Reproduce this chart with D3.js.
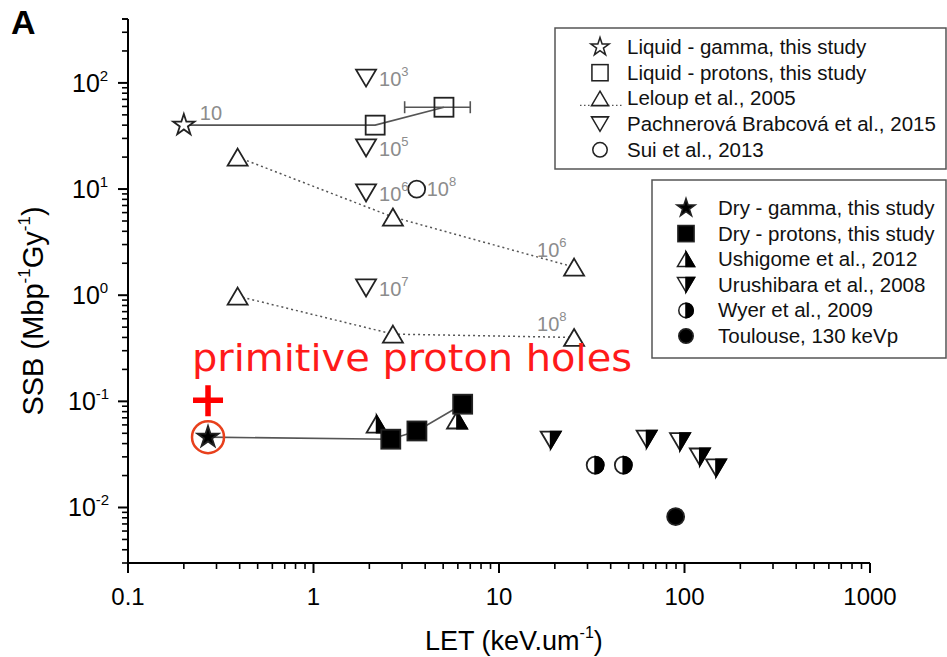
<!DOCTYPE html>
<html>
<head>
<meta charset="utf-8">
<script src="https://cdn.jsdelivr.net/npm/d3@7/dist/d3.min.js"></script>
<style>
body{margin:0;background:#fff;}
svg{display:block;font-family:"Liberation Sans",Arial,sans-serif;}
</style>
</head>
<body>
<svg id="chart" width="947" height="657"></svg>
<script>
// LET (keV/um) and SSB (Mbp^-1 Gy^-1)
var liquidGammaLET = [0.2];
var liquidGammaSSB = [40];
var liquidProtonLET = [2.15, 5.05];
var liquidProtonSSB = [40, 59];
var liquidProtonErrLow = [null, 3.1];
var liquidProtonErrHigh = [null, 7.0];
var leloupHighLET = [0.39, 2.68, 25.4];
var leloupHighSSB = [20, 5.45, 1.84];
var leloupLowLET = [0.39, 2.68, 25.4];
var leloupLowSSB = [0.98, 0.43, 0.40];
var pachnerovaLET = [1.92, 1.92, 1.92, 1.92];
var pachnerovaSSB = [111, 24.4, 9.2, 1.17];
var pachnerovaExp = ["3", "5", "6", "7"];
var suiLET = [3.6];
var suiSSB = [10];
var suiExp = ["8"];
var dryGammaLET = [0.27];
var dryGammaSSB = [0.046];
var dryProtonLET = [2.61, 3.61, 6.37];
var dryProtonSSB = [0.044, 0.0526, 0.094];
var ushigomeLET = [2.19, 5.94];
var ushigomeSSB = [0.061, 0.0667];
var urushibaraLET = [19.0, 62.5, 94.6, 121, 148];
var urushibaraSSB = [0.0432, 0.0441, 0.0417, 0.0299, 0.0236];
var wyerLET = [33, 46.8];
var wyerSSB = [0.0251, 0.0251];
var toulouseLET = [89.6];
var toulouseSSB = [0.0082];

var xTicks = [0.1, 1, 10, 100, 1000];
var xTickLabels = ["0.1", "1", "10", "100", "1000"];
var yTicks = [0.01, 0.1, 1, 10, 100];
var yTickExp = ["-2", "-1", "0", "1", "2"];

var legendLiquid = [
    {type: "starOpen", label: "Liquid - gamma, this study"},
    {type: "squareOpen", label: "Liquid - protons, this study"},
    {type: "triUpOpen", label: "Leloup et al., 2005", dotted: true},
    {type: "triDownOpen", label: "Pachnerová Brabcová et al., 2015"},
    {type: "circleOpen", label: "Sui et al., 2013"}
];
var legendDry = [
    {type: "starFilled", label: "Dry - gamma, this study"},
    {type: "squareFilled", label: "Dry - protons, this study"},
    {type: "triUpHalf", label: "Ushigome et al., 2012"},
    {type: "triDownHalf", label: "Urushibara et al., 2008"},
    {type: "circleHalf", label: "Wyer et al., 2009"},
    {type: "circleFilled", label: "Toulouse, 130 keVp"}
];

var LINE = "#555";
var EDGE = "#222";
var NOTE = "#8c8c8c";

var svg = d3.select("#chart");
var xScale = d3.scaleLog().domain([0.1, 1000]).range([128, 870]);
var yScale = d3.scaleLog().domain([0.003, 400]).range([563, 19]);

function zip(xs, ys){
    return xs.map(function(v, i){ return [v, ys[i]]; });
}

drawAxes();
drawLines();
drawAllMarkers();
drawNotes();
drawLegend(legendLiquid, 555, 28, 391, 141, 600, 627, 47, 25.7);
drawLegend(legendDry, 652, 180, 294, 178, 686, 718, 208, 25.6);
drawAnnotation();

function drawAxes(){
    var minorX = xScale.ticks().filter(function(t){ return xTicks.indexOf(t) < 0; });
    var minorY = yScale.ticks().filter(function(t){ return yTicks.indexOf(+t.toPrecision(3)) < 0; });
    minorY.push(400);

    var gx = svg.append("g").attr("transform", "translate(0,563)");
    gx.append("line").attr("x1", 128).attr("x2", 870).attr("stroke", "#000").attr("stroke-width", 2);
    gx.selectAll(".mnx").data(minorX).enter().append("line")
        .attr("x1", xScale).attr("x2", xScale).attr("y1", 0).attr("y2", 6)
        .attr("stroke", "#000").attr("stroke-width", 1.6);
    gx.selectAll(".mjx").data(xTicks).enter().append("line")
        .attr("x1", xScale).attr("x2", xScale).attr("y1", 0).attr("y2", 10)
        .attr("stroke", "#000").attr("stroke-width", 2);
    gx.selectAll(".lbx").data(xTicks).enter().append("text")
        .attr("x", xScale).attr("y", 42)
        .attr("text-anchor", "middle").attr("font-size", 24)
        .text(function(d, i){ return xTickLabels[i]; });

    var gy = svg.append("g").attr("transform", "translate(128,0)");
    gy.append("line").attr("y1", 19).attr("y2", 563).attr("stroke", "#000").attr("stroke-width", 2);
    gy.selectAll(".mny").data(minorY).enter().append("line")
        .attr("y1", yScale).attr("y2", yScale).attr("x1", 0).attr("x2", -6)
        .attr("stroke", "#000").attr("stroke-width", 1.6);
    gy.selectAll(".mjy").data(yTicks).enter().append("line")
        .attr("y1", yScale).attr("y2", yScale).attr("x1", 0).attr("x2", -10)
        .attr("stroke", "#000").attr("stroke-width", 2);
    var lab = gy.selectAll(".lby").data(yTicks).enter().append("text")
        .attr("y", function(d){ return yScale(d) + 9; })
        .attr("text-anchor", "start").attr("font-size", 25)
        .attr("x", function(d, i){ return yTickExp[i].length > 1 ? -60 : -56; });
    lab.append("tspan").text("10");
    lab.append("tspan").attr("font-size", 15).attr("dy", -11)
        .text(function(d, i){ return yTickExp[i]; });

    var xl = svg.append("text").attr("x", 425).attr("y", 650).attr("font-size", 27);
    xl.append("tspan").text("LET (keV.um");
    xl.append("tspan").attr("font-size", 16).attr("dy", -12).text("-1");
    xl.append("tspan").attr("dy", 12).text(")");

    var yl = svg.append("text").attr("transform", "translate(43,311) rotate(-90)")
        .attr("text-anchor", "middle").attr("font-size", 29);
    yl.append("tspan").text("SSB (Mbp");
    yl.append("tspan").attr("font-size", 17).attr("dy", -13).text("-1");
    yl.append("tspan").attr("dy", 13).text("Gy");
    yl.append("tspan").attr("font-size", 17).attr("dy", -13).text("-1");
    yl.append("tspan").attr("dy", 13).text(")");

    svg.append("text").attr("x", 11).attr("y", 34).attr("font-size", 34)
        .attr("font-weight", "bold").text("A");
}

function drawLines(){
    var line = d3.line().x(function(d){ return xScale(d[0]); }).y(function(d){ return yScale(d[1]); });
    var liquid = zip(liquidGammaLET.concat(liquidProtonLET), liquidGammaSSB.concat(liquidProtonSSB));
    var dry = zip(dryGammaLET.concat(dryProtonLET), dryGammaSSB.concat(dryProtonSSB));
    [liquid, dry].forEach(function(pts){
        svg.append("path").attr("d", line(pts)).attr("fill", "none")
            .attr("stroke", LINE).attr("stroke-width", 1.6);
    });
    [zip(leloupHighLET, leloupHighSSB), zip(leloupLowLET, leloupLowSSB)].forEach(function(pts){
        svg.append("path").attr("d", line(pts)).attr("fill", "none")
            .attr("stroke", LINE).attr("stroke-width", 1.5).attr("stroke-dasharray", "2,3");
    });
    // x error bars
    liquidProtonLET.forEach(function(v, i){
        if(liquidProtonErrLow[i] == null) return;
        var yy = yScale(liquidProtonSSB[i]);
        var x0 = xScale(liquidProtonErrLow[i]), x1 = xScale(liquidProtonErrHigh[i]);
        var g = svg.append("g").attr("stroke", LINE).attr("stroke-width", 1.6);
        g.append("line").attr("x1", x0).attr("x2", x1).attr("y1", yy).attr("y2", yy);
        g.append("line").attr("x1", x0).attr("x2", x0).attr("y1", yy - 6).attr("y2", yy + 6);
        g.append("line").attr("x1", x1).attr("x2", x1).attr("y1", yy - 6).attr("y2", yy + 6);
    });
}

function drawMarker(parent, type, cx, cy){
    var g = parent.append("g").attr("transform", "translate(" + cx + "," + cy + ")");
    var w = 20, h = 17, r = 8.5, sq = 19;
    if(type === "starOpen" || type === "starFilled"){
        g.append("path").attr("d", d3.symbol().type(d3.symbolStar).size(140)())
            .attr("fill", type === "starFilled" ? "#000" : "#fff")
            .attr("stroke", EDGE).attr("stroke-width", 1.8);
    } else if(type === "squareOpen" || type === "squareFilled"){
        g.append("rect").attr("x", -sq / 2).attr("y", -sq / 2).attr("width", sq).attr("height", sq)
            .attr("fill", type === "squareFilled" ? "#000" : "none")
            .attr("stroke", EDGE).attr("stroke-width", 1.8);
    } else if(type === "triUpOpen" || type === "triUpHalf"){
        g.append("path").attr("d", "M0," + (-h / 2) + "L" + (w / 2) + "," + (h / 2) + "L" + (-w / 2) + "," + (h / 2) + "Z")
            .attr("fill", "#fff").attr("stroke", EDGE).attr("stroke-width", 1.8);
        if(type === "triUpHalf"){
            g.append("path").attr("d", "M0," + (-h / 2) + "L" + (w / 2) + "," + (h / 2) + "L0," + (h / 2) + "Z")
                .attr("fill", "#000").attr("stroke", "#000").attr("stroke-width", 1.8);
        }
    } else if(type === "triDownOpen" || type === "triDownHalf"){
        g.append("path").attr("d", "M" + (-w / 2) + "," + (-h / 2) + "L" + (w / 2) + "," + (-h / 2) + "L0," + (h / 2) + "Z")
            .attr("fill", "#fff").attr("stroke", EDGE).attr("stroke-width", 1.8);
        if(type === "triDownHalf"){
            g.append("path").attr("d", "M0," + (-h / 2) + "L" + (w / 2) + "," + (-h / 2) + "L0," + (h / 2) + "Z")
                .attr("fill", "#000").attr("stroke", "#000").attr("stroke-width", 1.8);
        }
    } else if(type === "circleOpen" || type === "circleHalf" || type === "circleFilled"){
        g.append("circle").attr("r", r)
            .attr("fill", type === "circleFilled" ? "#000" : "#fff")
            .attr("stroke", EDGE).attr("stroke-width", 1.8);
        if(type === "circleHalf"){
            g.append("path").attr("d", "M0," + (-r) + "A" + r + "," + r + " 0 0 1 0," + r + "Z")
                .attr("fill", "#000").attr("stroke", "#000").attr("stroke-width", 1.8);
        }
    }
    return g;
}

function drawSeries(xs, ys, type){
    xs.forEach(function(v, i){ drawMarker(svg, type, xScale(v), yScale(ys[i])); });
}

function drawAllMarkers(){
    drawSeries(leloupHighLET, leloupHighSSB, "triUpOpen");
    drawSeries(leloupLowLET, leloupLowSSB, "triUpOpen");
    drawSeries(pachnerovaLET, pachnerovaSSB, "triDownOpen");
    drawSeries(suiLET, suiSSB, "circleOpen");
    drawSeries(liquidGammaLET, liquidGammaSSB, "starOpen");
    drawSeries(liquidProtonLET, liquidProtonSSB, "squareOpen");
    drawSeries(ushigomeLET, ushigomeSSB, "triUpHalf");
    drawSeries(dryGammaLET, dryGammaSSB, "starFilled");
    drawSeries(dryProtonLET, dryProtonSSB, "squareFilled");
    drawSeries(urushibaraLET, urushibaraSSB, "triDownHalf");
    drawSeries(wyerLET, wyerSSB, "circleHalf");
    drawSeries(toulouseLET, toulouseSSB, "circleFilled");
}

function powerLabel(x, y, exp){
    var t = svg.append("text").attr("x", x).attr("y", y).attr("fill", NOTE).attr("font-size", 20);
    t.append("tspan").text("10");
    if(exp) t.append("tspan").attr("font-size", 13).attr("dy", -10).text(exp);
    return t;
}

function drawNotes(){
    powerLabel(xScale(liquidGammaLET[0]) + 16, yScale(liquidGammaSSB[0]) - 5, null);
    pachnerovaLET.forEach(function(v, i){
        powerLabel(xScale(v) + 13, yScale(pachnerovaSSB[i]) + 8, pachnerovaExp[i]);
    });
    powerLabel(xScale(suiLET[0]) + 10, yScale(suiSSB[0]) + 7, suiExp[0]);
    powerLabel(xScale(leloupHighLET[2]) - 37, yScale(leloupHighSSB[2]) - 10, "6");
    powerLabel(xScale(leloupLowLET[2]) - 37, yScale(leloupLowSSB[2]) - 6, "8");
}

function drawLegend(items, x, y, w, h, symX, textX, firstY, step){
    svg.append("rect").attr("x", x).attr("y", y).attr("width", w).attr("height", h)
        .attr("fill", "#fff").attr("stroke", "#555").attr("stroke-width", 1.5);
    items.forEach(function(it, i){
        var yy = firstY + i * step;
        if(it.dotted){
            svg.append("line").attr("x1", symX - 20).attr("x2", symX + 22).attr("y1", yy + 7).attr("y2", yy + 7)
                .attr("stroke", LINE).attr("stroke-width", 1.3).attr("stroke-dasharray", "1.5,2.5");
        }
        drawMarker(svg, it.type, symX, yy).attr("transform", "translate(" + symX + "," + yy + ") scale(0.85)");
        svg.append("text").attr("x", textX).attr("y", yy + 7).attr("font-size", 20.5).attr("fill", "#111")
            .text(it.label);
    });
}

function drawAnnotation(){
    var cx = xScale(dryGammaLET[0]), cy = yScale(dryGammaSSB[0]);
    svg.append("circle").attr("cx", cx).attr("cy", cy).attr("r", 16)
        .attr("fill", "none").attr("stroke", "#e8401c").attr("stroke-width", 2.5);
    svg.append("path").attr("d", "M" + (cx - 15) + "," + (cy - 37) + "H" + (cx + 15) + "M" + cx + "," + (cy - 52) + "V" + (cy - 21))
        .attr("stroke", "#ff0000").attr("stroke-width", 5.5);
    svg.append("text").attr("x", 192).attr("y", 371).attr("fill", "#ff1a1a")
        .attr("font-family", "'DejaVu Sans', sans-serif").attr("font-size", 38)
        .attr("textLength", 440).attr("lengthAdjust", "spacingAndGlyphs")
        .text("primitive proton holes");
}
</script>
</body>
</html>
